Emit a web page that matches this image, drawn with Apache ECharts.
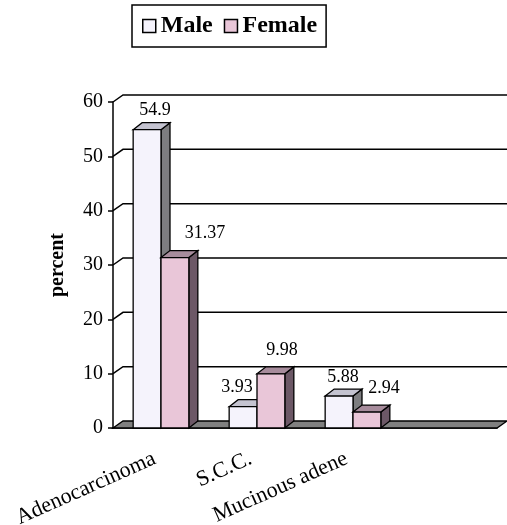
<!DOCTYPE html>
<html>
<head>
<meta charset="utf-8">
<script src="https://cdn.jsdelivr.net/npm/echarts@6/dist/echarts.min.js"></script>
<style>
html, body { margin: 0; padding: 0; background: #fff; }
#chart { width: 507px; height: 525px; }
</style>
</head>
<body>
<div id="chart"></div>
<script>
// chart data (the 4th category slot is empty in the original)
var categories = ['Adenocarcinoma', 'S.C.C.', 'Mucinous adene', ''];
var maleValues = [54.9, 3.93, 5.88, null];
var femaleValues = [31.37, 9.98, 2.94, null];
var yTicks = [0, 10, 20, 30, 40, 50, 60];

// small horizontal nudges for the value labels (Excel placed them loosely)
var maleLabelDx = [8, -6, 4];
var femaleLabelDx = [30, 11, 17];

var FONT = '"Liberation Serif", "Times New Roman", serif';
var DX = 9, DY = -7;     // bar depth
var WDX = 10, WDY = -7;  // floor / back wall depth

var maleColors = { front: '#f5f3fc', top: '#c4c3d0', side: '#7d7d80' };
var femaleColors = { front: '#e9c6d8', top: '#a78c9c', side: '#6c5866' };

var myChart = echarts.init(document.getElementById('chart'));

function toPairs(arr) {
	var out = [];
	for (var i = 0; i < arr.length; i++) {
		if (arr[i] != null) out.push([i, arr[i]]);
	}
	return out;
}

// draws one 3D column: side, top, front face and the value label
function barRenderer(side, colors, labelDx, labelDy) {
	return function (params, api) {
		var idx = api.value(0);
		var val = api.value(1);
		var top = api.coord([idx, val]);
		var base = api.coord([idx, 0]);
		var bw = api.size([1, 0])[0] * 0.29;
		var x0 = side < 0 ? top[0] - bw : top[0];
		var x1 = x0 + bw;
		var yT = top[1], yB = base[1];
		return {
			type: 'group',
			children: [
				{
					type: 'polygon',
					shape: { points: [[x1, yB], [x1 + DX, yB + DY], [x1 + DX, yT + DY], [x1, yT]] },
					style: { fill: colors.side, stroke: '#000', lineWidth: 1.3 }
				},
				{
					type: 'polygon',
					shape: { points: [[x0, yT], [x0 + DX, yT + DY], [x1 + DX, yT + DY], [x1, yT]] },
					style: { fill: colors.top, stroke: '#000', lineWidth: 1.3 }
				},
				{
					type: 'rect',
					shape: { x: x0, y: yT, width: bw, height: yB - yT },
					style: { fill: colors.front, stroke: '#000', lineWidth: 1.3 }
				},
				{
					type: 'text',
					x: (x0 + x1) / 2 + (labelDx[params.dataIndex] || 0),
					y: yT + labelDy,
					style: {
						text: String(val),
						font: '18px ' + FONT,
						fill: '#000',
						align: 'center',
						verticalAlign: 'middle'
					}
				}
			]
		};
	};
}

// floor plus the back-wall gridlines (with the short diagonal from the axis tick)
function wallRenderer(params, api) {
	var v = api.value(1);
	var y = api.coord([0, v])[1];
	var cs = params.coordSys;
	var left = cs.x, right = cs.x + cs.width;
	if (v === 0) {
		return {
			type: 'polygon',
			shape: { points: [[left, y], [left + WDX, y + WDY], [right + WDX, y + WDY], [right, y]] },
			style: { fill: '#808080', stroke: '#000', lineWidth: 1.3 }
		};
	}
	return {
		type: 'polyline',
		shape: { points: [[left, y], [left + WDX, y + WDY], [right + WDX, y + WDY]] },
		style: { fill: null, stroke: '#000', lineWidth: 1.5 }
	};
}

var option = {
	backgroundColor: '#fff',
	animation: false,
	legend: {
		left: 132,
		top: 5,
		padding: [9, 9, 9, 10],
		itemGap: 11,
		itemWidth: 13,
		itemHeight: 13,
		borderColor: '#000',
		borderWidth: 1.5,
		textStyle: { fontFamily: FONT, fontWeight: 'bold', fontSize: 24, color: '#000' },
		data: [
			{ name: 'Male', icon: 'rect', itemStyle: { color: maleColors.front, borderColor: '#000', borderWidth: 1.5 } },
			{ name: 'Female', icon: 'rect', itemStyle: { color: femaleColors.front, borderColor: '#000', borderWidth: 1.5 } }
		]
	},
	grid: {
		left: 113,
		right: 10,
		top: 102,
		bottom: 97,
		containLabel: false,
		outerBoundsMode: 'none'
	},
	xAxis: {
		type: 'category',
		data: categories,
		boundaryGap: true,
		axisLine: { lineStyle: { color: '#000', width: 1.5 } },
		axisTick: { length: 5, lineStyle: { color: '#000', width: 1.5 } },
		axisLabel: {
			interval: 0,
			rotate: 24,
			margin: 27,
			padding: [0, 7, 0, 0],
			fontFamily: FONT,
			fontSize: 22,
			color: '#000'
		}
	},
	yAxis: {
		type: 'value',
		min: 0,
		max: 60,
		interval: 10,
		name: 'percent',
		nameLocation: 'middle',
		nameRotate: 90,
		nameGap: 45,
		nameTextStyle: { fontFamily: FONT, fontWeight: 'bold', fontSize: 20, color: '#000' },
		axisLine: { show: true, lineStyle: { color: '#000', width: 1.5 } },
		axisTick: { show: true, length: 5, lineStyle: { color: '#000', width: 1.5 } },
		axisLabel: { margin: 10, fontFamily: FONT, fontSize: 20, color: '#000' },
		splitLine: { show: false }
	},
	series: [
		{
			name: 'wall',
			type: 'custom',
			z: 1,
			silent: true,
			renderItem: wallRenderer,
			data: yTicks.map(function (v) { return [0, v]; })
		},
		{
			name: 'Male',
			type: 'custom',
			z: 3,
			itemStyle: { color: maleColors.front },
			renderItem: barRenderer(-1, maleColors, maleLabelDx, -19),
			data: toPairs(maleValues)
		},
		{
			name: 'Female',
			type: 'custom',
			z: 3,
			itemStyle: { color: femaleColors.front },
			renderItem: barRenderer(1, femaleColors, femaleLabelDx, -24),
			data: toPairs(femaleValues)
		}
	]
};

myChart.setOption(option);
</script>
</body>
</html>
